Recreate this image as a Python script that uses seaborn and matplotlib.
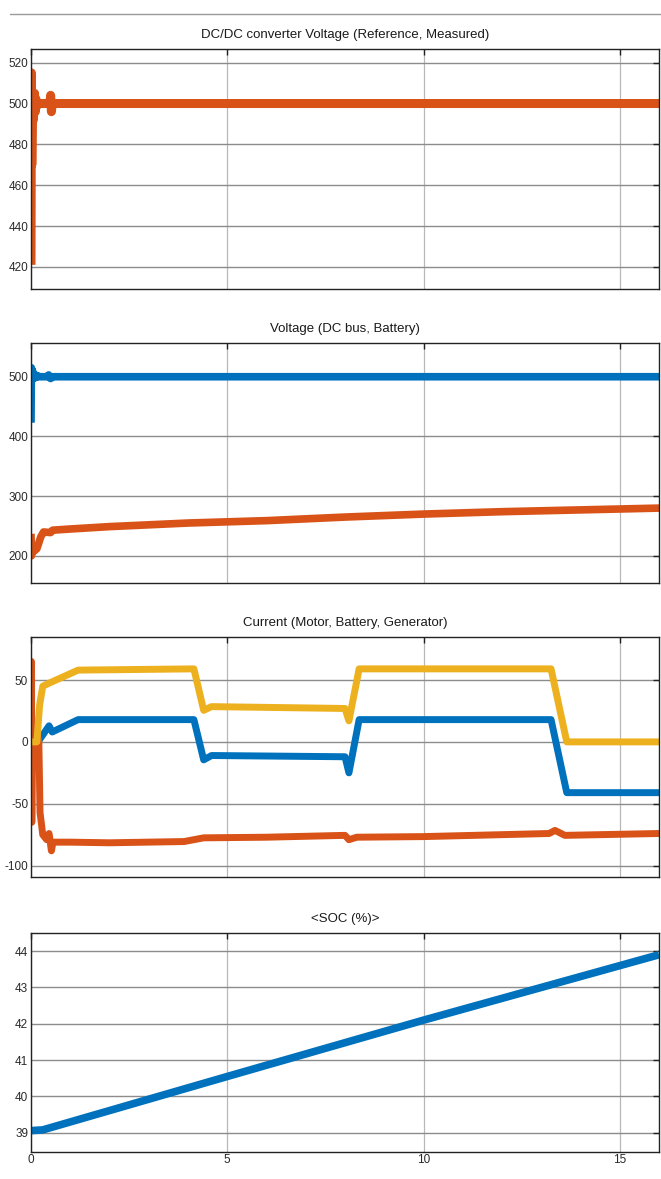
import numpy as np
import pandas as pd
import matplotlib
matplotlib.use("Agg")
import matplotlib.pyplot as plt
from matplotlib.lines import Line2D
import seaborn as sns

# ---- simulation traces (time in s) ----
ref_t = [0, 16]
ref_v = [500, 500]
meas_t = [0, 0.01, 0.02, 0.04, 0.06, 0.09, 0.11, 0.13, 0.16, 0.2, 0.48, 0.5, 0.52, 0.54, 16]
meas_v = [421, 515, 470, 500, 492, 505, 496, 502, 499, 500, 500, 504, 496, 500, 500]

bus_t = [0, 0.01, 0.02, 0.04, 0.07, 0.1, 0.13, 0.16, 0.2, 0.4, 0.45, 0.5, 0.55, 16]
bus_v = [423, 515, 495, 510, 497, 503, 499, 502, 500, 500, 503, 497, 500, 500]
batv_t = [0, 0.01, 0.03, 0.08, 0.15, 0.25, 0.32, 0.5, 0.55, 1, 2, 3, 4, 6, 8, 10, 12, 14, 16]
batv_v = [237, 200, 215, 208, 212, 232, 240, 239, 243, 245, 249, 252, 255, 259, 265, 270, 274, 277, 280]

motor_t = [0, 0.2, 0.46, 0.54, 1.2, 4.15, 4.4, 4.6, 8.0, 8.1, 8.36, 13.25, 13.65, 16]
motor_i = [0, 1, 13, 8, 18, 18, -14.5, -11, -12, -25, 18, 18, -41, -41]
batt_t = [0, 0.01, 0.02, 0.04, 0.08, 0.13, 0.2, 0.23, 0.3, 0.4, 0.46, 0.52, 0.56, 1.0, 2.0,
          3.9, 4.4, 6, 8.0, 8.1, 8.3, 10, 13.2, 13.35, 13.6, 16]
batt_i = [0, 65, -65, 12, 5, 10, 0, -57, -75, -79, -74, -88, -81, -81, -81.5,
          -80.5, -77.5, -77, -75.5, -79, -77, -76.5, -74, -71.5, -75.5, -74]
gen_t = [0, 0.15, 0.22, 0.3, 0.5, 1.2, 4.15, 4.4, 4.6, 8.0, 8.1, 8.36, 13.25, 13.65, 16]
gen_i = [0, 0, 30, 45, 48, 58, 59, 25.5, 28.5, 27, 17, 59, 59, 0, 0]

soc_t = [0, 0.3, 5, 10, 16]
soc_v = [39.06, 39.08, 40.55, 42.1, 43.9]

titles = ["DC/DC converter Voltage (Reference, Measured)",
          "Voltage (DC bus, Battery)",
          "Current (Motor, Battery, Generator)",
          "<SOC (%)>"]
yticks = [[420, 440, 460, 480, 500, 520],
          [200, 300, 400, 500],
          [-100, -50, 0, 50],
          [39, 40, 41, 42, 43, 44]]
ylims = [(409.4, 526.7), (155.4, 556), (-108.9, 84.5), (38.48, 44.49)]
xticks = [0, 5, 10, 15]

BLUE = (0.0, 0.447, 0.741)
ORANGE = (0.85, 0.325, 0.098)
YELLOW = (0.929, 0.694, 0.125)
GREEN = (0.466, 0.674, 0.188)

sns.set_style("white")
plt.rcParams['font.family'] = ['Liberation Sans Narrow', 'Liberation Sans', 'DejaVu Sans']

W, H = 661, 1179
fig = plt.figure(figsize=(W / 100, H / 100), dpi=100)

# axes boxes in pixels: (top, bottom)
boxes = [(49, 288.5), (343.3, 582.5), (637.3, 876.7), (933.3, 1151.7)]
left_px, right_px = 31, 659

series = [
    [(ref_t, ref_v, GREEN, 1.2), (meas_t, meas_v, ORANGE, 6.5)],
    [(bus_t, bus_v, BLUE, 5.5), (batv_t, batv_v, ORANGE, 5.5)],
    [(motor_t, motor_i, BLUE, 5.0), (batt_t, batt_i, ORANGE, 5.0), (gen_t, gen_i, YELLOW, 5.0)],
    [(soc_t, soc_v, BLUE, 5.5)],
]

for k, (top, bot) in enumerate(boxes):
    ax = fig.add_axes([left_px / W, 1 - bot / H, (right_px - left_px) / W, (bot - top) / H])
    for (t, v, c, lw) in series[k]:
        df = pd.DataFrame({"t": t, "v": v})
        sns.lineplot(data=df, x="t", y="v", ax=ax, color=c, linewidth=lw,
                     sort=False, estimator=None, solid_joinstyle="round",
                     solid_capstyle="butt")
    ax.set_xlim(0, 16)
    ax.set_ylim(*ylims[k])
    ax.set_xticks(xticks)
    ax.set_yticks(yticks[k])
    ax.set_yticklabels([str(y) for y in yticks[k]])
    if k < 3:
        ax.set_xticklabels([])
    ax.set_xlabel("")
    ax.set_ylabel("")
    ax.set_axisbelow(True)
    ax.yaxis.grid(True, color="#8c8c8c", linewidth=1.0)
    ax.xaxis.grid(True, color="#b8b8b8", linewidth=0.9)
    ax.tick_params(direction="in", length=4, width=1.0, color="#222222",
                   top=True, right=True, labelsize=8.5, labelcolor="#2a2a2a", pad=2)
    for s in ax.spines.values():
        s.set_color("#222222")
        s.set_linewidth(1.0)
    ax.set_title(titles[k], fontsize=9.5, color="#1a1a1a", pad=8)

# thin separator line across the top of the window
fig.add_artist(Line2D([10 / W, 1.0], [1 - 14 / H, 1 - 14 / H], color="#9a9a9a", linewidth=1.0))

fig.savefig("out.png", dpi=100, facecolor="white")
